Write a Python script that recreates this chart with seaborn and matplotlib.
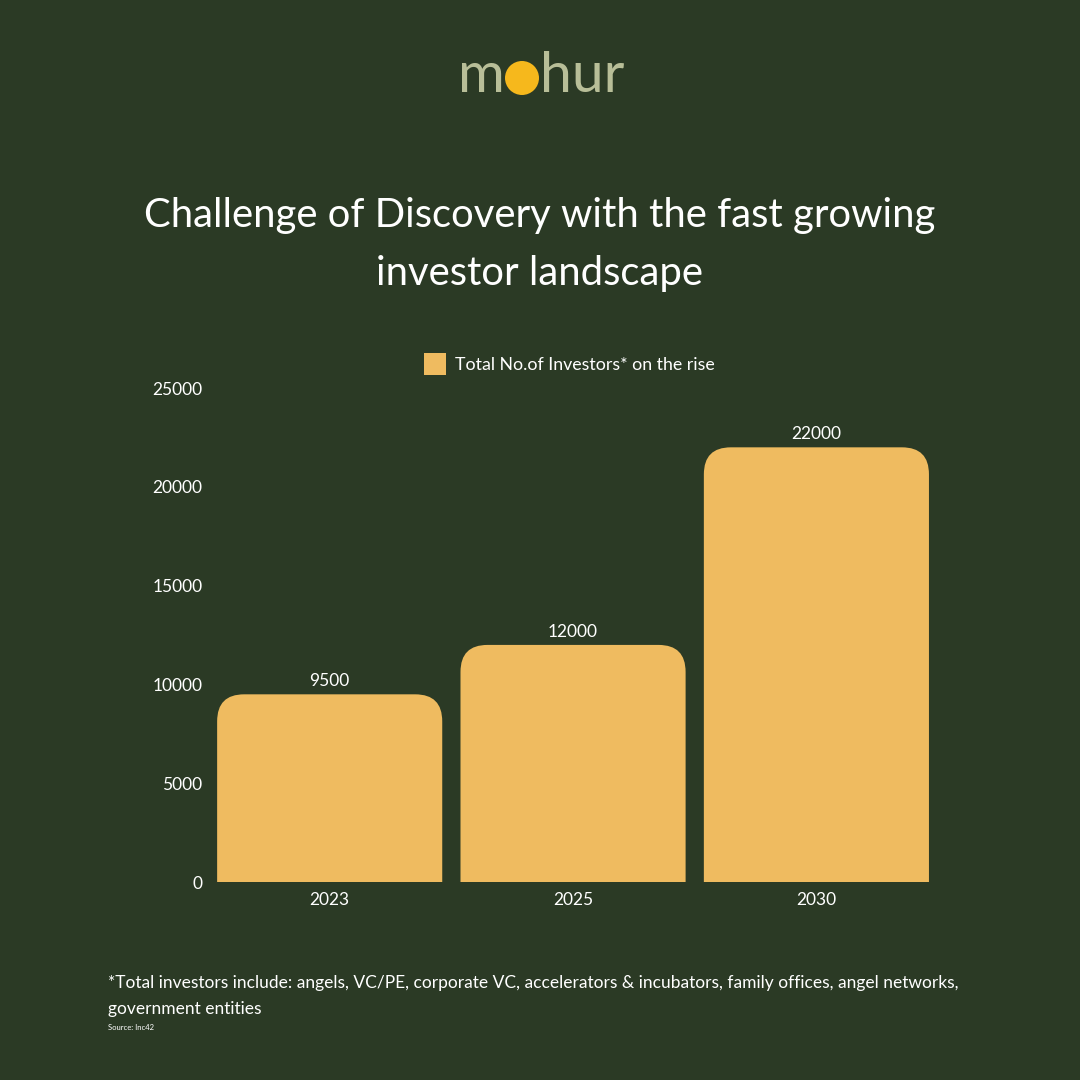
import matplotlib
matplotlib.use("Agg")
import matplotlib.pyplot as plt
import seaborn as sns
import pandas as pd
from matplotlib.patches import FancyBboxPatch, Rectangle, Circle

years = ["2023", "2025", "2030"]
investors = [9500, 12000, 22000]
series_name = "Total No.of Investors* on the rise"
yticks = [0, 5000, 10000, 15000, 20000, 25000]

BG = "#2b3a25"
BAR = "#efbb60"
SAGE = "#b8be98"
DOT = "#f6b81c"
WHITE = "#ffffff"

sns.set_theme(style="dark")
plt.rcParams['font.family'] = ['Lato', 'DejaVu Sans']

df = pd.DataFrame({"year": years, "investors": investors})

fig = plt.figure(figsize=(10.8, 10.8), dpi=100, facecolor=BG)
ax = fig.add_axes([0.1926, 0.1833, 0.676, 0.4574])
ax.set_facecolor(BG)

sns.barplot(data=df, x="year", y="investors", color=BAR, width=0.925,
            saturation=1, ax=ax)
ax.set_ylim(0, 25000)
ax.set_xlim(-0.5, 2.5)

# replace bars with top-rounded versions (bottom corners clipped below 0)
rx = 27 / 243.5
ry = 27 * 25000 / 494
patches = list(ax.patches)
for p in patches:
    x, w, h = p.get_x(), p.get_width(), p.get_height()
    p.set_visible(False)
    fb = FancyBboxPatch((x, -3 * ry), w, h + 3 * ry,
                        boxstyle=f"round,pad=0,rounding_size={rx}",
                        mutation_aspect=ry / rx,
                        facecolor=BAR, edgecolor="none", zorder=3)
    ax.add_patch(fb)
    fb.set_clip_path(ax.patch)
    ax.text(x + w / 2, h + 250, f"{int(h)}", ha="center", va="bottom",
            color=WHITE, fontsize=12.5, zorder=4)

ax.set_yticks(yticks)
ax.set_yticklabels([str(v) for v in yticks])
ax.tick_params(axis="y", colors=WHITE, labelsize=12.5, pad=4, length=0)
ax.tick_params(axis="x", colors=WHITE, labelsize=12.5, pad=7, length=0)
ax.set_xlabel("")
ax.set_ylabel("")
ax.grid(False)
for s in ax.spines.values():
    s.set_visible(False)

# legend
fig.patches.append(Rectangle((424 / 1080, 1 - 375 / 1080), 22 / 1080, 22 / 1080,
                             transform=fig.transFigure, facecolor=BAR,
                             edgecolor="none"))
fig.text(455 / 1080, 1 - 365 / 1080, series_name, color=WHITE, fontsize=12.8,
         va="center", ha="left")

# logo
fig.text(505 / 1080, 1 - 76 / 1080, "m", color=SAGE, fontsize=41,
         ha="right", va="center")
fig.patches.append(Circle((522 / 1080, 1 - 78 / 1080), 17 / 1080,
                          transform=fig.transFigure, facecolor=DOT,
                          edgecolor="none"))
fig.text(540 / 1080, 1 - 76 / 1080, "hur", color=SAGE, fontsize=41,
         ha="left", va="center")

# title
fig.text(540 / 1080, 1 - 215 / 1080, "Challenge of Discovery with the fast growing",
         color=WHITE, fontsize=28.8, ha="center", va="center")
fig.text(540 / 1080, 1 - 273 / 1080, "investor landscape",
         color=WHITE, fontsize=28.8, ha="center", va="center")

# footnote
fig.text(108 / 1080, 1 - 983 / 1080,
         "*Total investors include: angels, VC/PE, corporate VC, accelerators & incubators, family offices, angel networks,",
         color=WHITE, fontsize=12.5, ha="left", va="center")
fig.text(108 / 1080, 1 - 1009 / 1080, "government entities",
         color=WHITE, fontsize=12.5, ha="left", va="center")
fig.text(108 / 1080, 1 - 1027 / 1080, "Source: Inc42",
         color=WHITE, fontsize=5.5, ha="left", va="center")

fig.savefig("out.png", dpi=100, facecolor=BG)
